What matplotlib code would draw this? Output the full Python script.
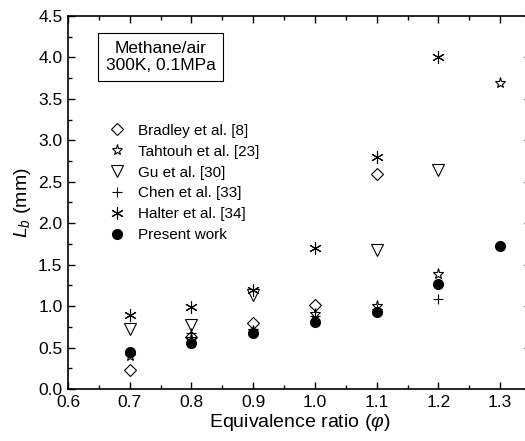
import numpy as np
import matplotlib.pyplot as plt
from matplotlib.ticker import MultipleLocator

plt.rcParams['font.family'] = ['Liberation Sans', 'DejaVu Sans']
plt.rcParams['mathtext.fontset'] = 'custom'
plt.rcParams['mathtext.it'] = 'Liberation Sans:italic'
plt.rcParams['mathtext.rm'] = 'Liberation Sans'

# data
phi_bradley = [0.7, 0.8, 0.9, 1.0, 1.1]
lb_bradley = [0.23, 0.63, 0.80, 1.01, 2.59]

phi_tahtouh = [0.7, 0.8, 0.9, 1.0, 1.1, 1.2, 1.3]
lb_tahtouh = [0.40, 0.60, 0.70, 0.90, 1.00, 1.39, 3.69]

phi_gu = [0.7, 0.8, 0.9, 1.1, 1.2]
lb_gu = [0.72, 0.77, 1.13, 1.68, 2.64]

phi_chen = [0.7, 0.8, 1.0, 1.1, 1.2]
lb_chen = [0.45, 0.68, 0.88, 0.97, 1.08]

phi_halter = [0.7, 0.8, 0.9, 1.0, 1.1, 1.2]
lb_halter = [0.89, 0.99, 1.19, 1.70, 2.80, 4.00]

phi_present = [0.7, 0.8, 0.9, 1.0, 1.1, 1.2, 1.3]
lb_present = [0.44, 0.56, 0.68, 0.81, 0.93, 1.26, 1.72]

fig = plt.figure(figsize=(5.25, 4.41), dpi=100)
ax = fig.add_axes([0.1295, 0.118, 0.882, 0.846])

ax.plot(phi_bradley, lb_bradley, 'D', ms=6, mfc='none', mec='black', mew=0.8,
        ls='none', label='Bradley et al. [8]')
ax.plot(phi_tahtouh, lb_tahtouh, '*', ms=8, mfc='none', mec='black', mew=0.8,
        ls='none', label='Tahtouh et al. [23]')
ax.plot(phi_gu, lb_gu, 'v', ms=8, mfc='none', mec='black', mew=0.8,
        ls='none', label='Gu et al. [30]')
ax.plot(phi_chen, lb_chen, '+', ms=7, mec='black', mew=0.8,
        ls='none', label='Chen et al. [33]')
ax.plot(phi_halter, lb_halter, marker=(6, 2, 0), ms=9, mec='black', mew=0.8,
        ls='none', label='Halter et al. [34]')
ax.plot(phi_present, lb_present, 'o', ms=7, color='black',
        ls='none', label='Present work')

ax.set_xlim(0.6, 1.35)
ax.set_ylim(0, 4.5)
ax.xaxis.set_major_locator(MultipleLocator(0.1))
ax.xaxis.set_minor_locator(MultipleLocator(0.05))
ax.yaxis.set_major_locator(MultipleLocator(0.5))
ax.yaxis.set_minor_locator(MultipleLocator(0.25))
ax.xaxis.set_major_formatter(plt.FormatStrFormatter('%.1f'))
ax.yaxis.set_major_formatter(plt.FormatStrFormatter('%.1f'))
ax.tick_params(which='both', direction='in', top=True, right=True, labelsize=12.5)
ax.tick_params(which='major', length=5, width=1, pad=4)
ax.tick_params(which='minor', length=3, width=1)
for s in ax.spines.values():
    s.set_linewidth(1.2)

ax.set_xlabel(r'Equivalence ratio ($\mathit{\varphi}$)', fontsize=14, labelpad=2)
ax.set_ylabel(r'$L_b$ (mm)', fontsize=14, labelpad=4)

ax.text(0.2, 0.89, 'Methane/air\n300K, 0.1MPa', transform=ax.transAxes,
        ha='center', va='center', fontsize=12.5, linespacing=1.2,
        bbox=dict(boxstyle='square,pad=0.45', fc='white', ec='black', lw=0.8))

ax.legend(loc='upper left', bbox_to_anchor=(0.073, 0.727), frameon=False,
          fontsize=11, handletextpad=0.75, labelspacing=0.45, handlelength=1.2,
          borderaxespad=0)

fig.savefig('out.png', dpi=100)
